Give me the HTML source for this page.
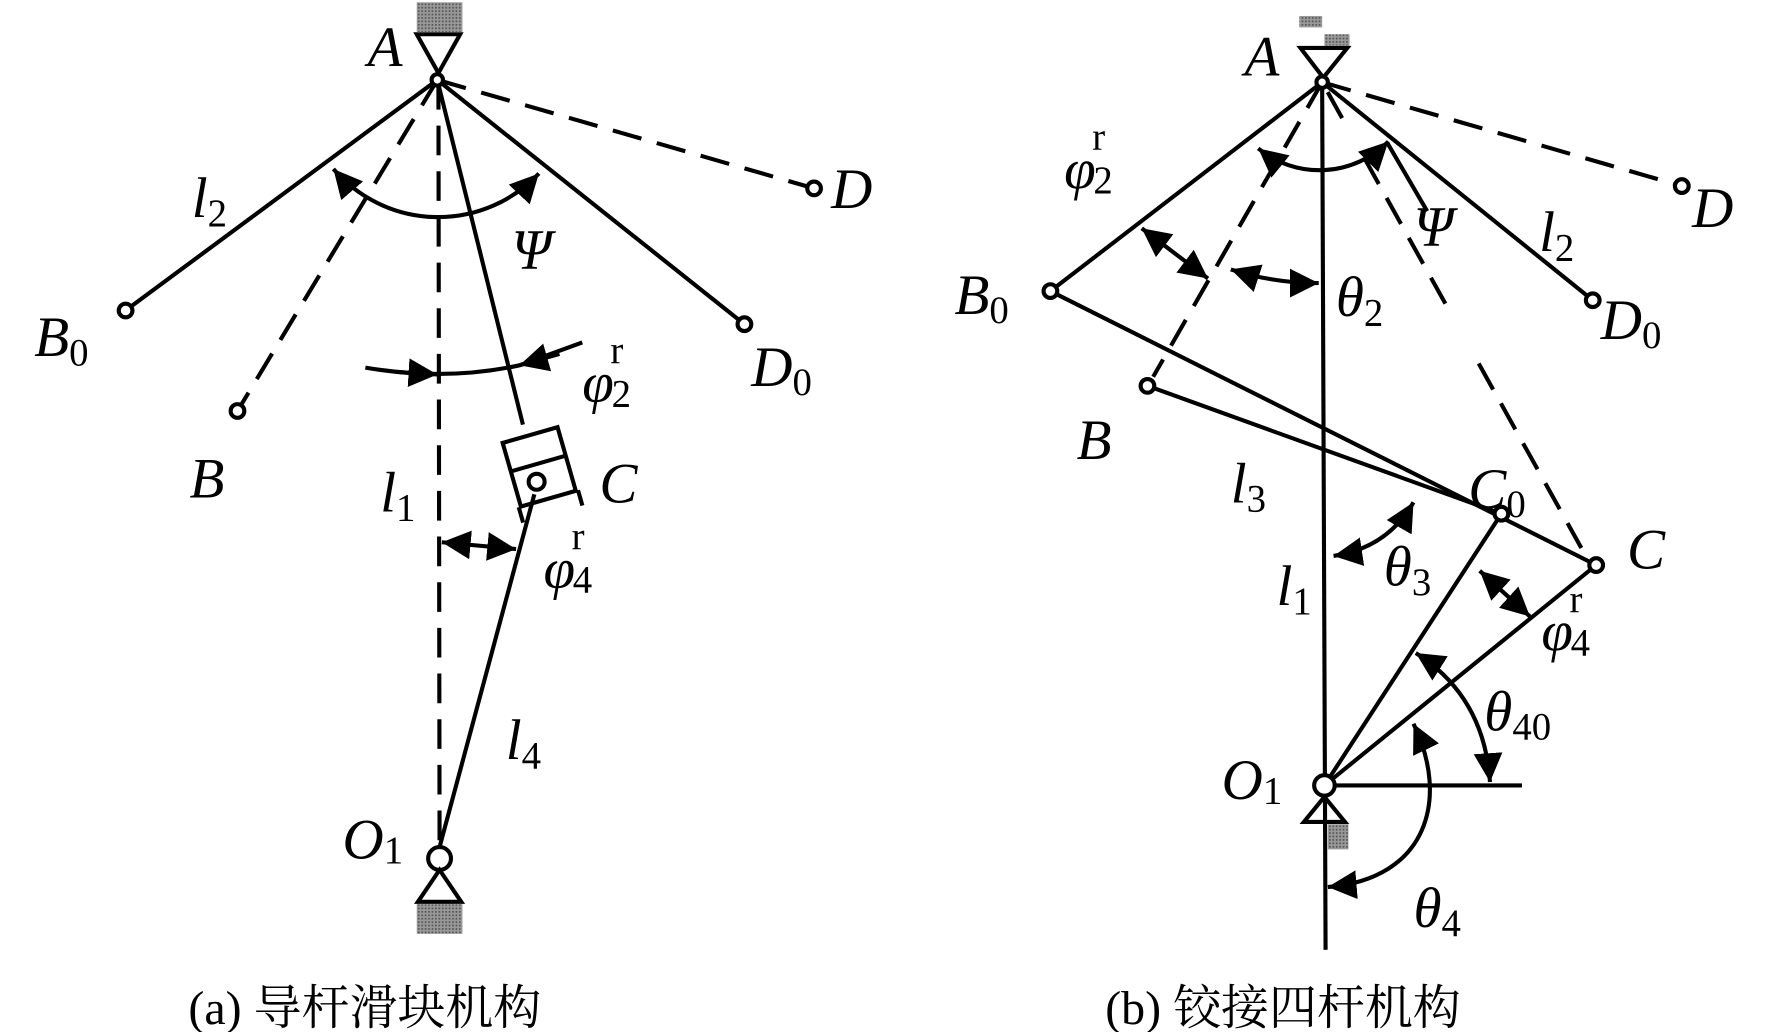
<!DOCTYPE html>
<html><head><meta charset="utf-8"><style>html,body{margin:0;padding:0;background:#fff}svg{display:block}
text{font-family:"Liberation Serif","Noto Serif CJK SC",serif;font-style:italic;font-size:50px;fill:#000}
.s{font-style:normal;font-size:34px}.c{font-style:normal;font-size:42px}</style></head><body>
<svg width="1772" height="1032" viewBox="0 0 1552 904" preserveAspectRatio="none" xmlns="http://www.w3.org/2000/svg">
<defs>
<marker id="a" viewBox="0 0 10 10" refX="10" refY="5" markerWidth="7" markerHeight="7" orient="auto-start-reverse"><path d="M0,0 L10,5 L0,10z" fill="#000"/></marker>
<pattern id="h" width="3" height="3" patternUnits="userSpaceOnUse"><rect width="3" height="3" fill="#999"/><rect width="1.5" height="1.5" fill="#555"/></pattern></defs>
<g stroke="#000" stroke-width="3.6" fill="none">
<!-- left -->
<rect x="365" y="2" width="40" height="26" fill="url(#h)" stroke="none"/>
<path d="M365,30 H403 L384,64 Z"/>
<line x1="383" y1="70" x2="110" y2="272"/><line x1="383" y1="70" x2="652" y2="284"/>
<line x1="383" y1="70" x2="713" y2="165" stroke-dasharray="26,14"/>
<line x1="383" y1="70" x2="208" y2="360" stroke-dasharray="26,14"/>
<line x1="384" y1="70" x2="385" y2="742" stroke-dasharray="26,14"/>
<line x1="383" y1="70" x2="458" y2="372"/>
<g transform="rotate(-16 472 408)"><rect x="447" y="380" width="50" height="58"/><line x1="447" y1="406" x2="497" y2="406"/><line x1="445" y1="438" x2="445" y2="452"/><line x1="499" y1="438" x2="499" y2="452"/></g>
<line x1="468" y1="433" x2="385" y2="742"/>
<circle cx="470" cy="422" r="7" fill="#fff"/>
<circle cx="385" cy="752" r="10" fill="#fff"/>
<path d="M385,762 L366,790 H404 Z"/>
<rect x="365" y="792" width="40" height="26" fill="url(#h)" stroke="none"/>
<path d="M292,148 A121,121 0 0 0 472,152" marker-start="url(#a)" marker-end="url(#a)"/>
<path d="M320,322 Q390,334 455,320 L510,300"/>
<line x1="350" y1="326" x2="383" y2="328" marker-end="url(#a)"/>
<line x1="490" y1="310" x2="455" y2="320" marker-end="url(#a)"/>
<line x1="387" y1="475" x2="452" y2="481" marker-start="url(#a)" marker-end="url(#a)"/>
<circle cx="383" cy="70" r="5" fill="#fff"/><circle cx="110" cy="272" r="6" fill="#fff"/><circle cx="652" cy="284" r="6" fill="#fff"/><circle cx="713" cy="165" r="6" fill="#fff"/><circle cx="208" cy="360" r="6" fill="#fff"/>
<!-- right -->
<rect x="1138" y="14" width="20" height="10" fill="url(#h)" stroke="none"/><rect x="1160" y="30" width="22" height="10" fill="url(#h)" stroke="none"/>
<path d="M1139,42 H1180 L1159,68 Z"/>
<line x1="1158" y1="72" x2="1161" y2="832"/>
<line x1="1158" y1="72" x2="920" y2="255"/><line x1="920" y1="255" x2="1398" y2="495"/>
<line x1="1158" y1="72" x2="1395" y2="263"/>
<line x1="1158" y1="72" x2="1473" y2="163" stroke-dasharray="26,14"/>
<line x1="1158" y1="72" x2="1010" y2="330" stroke-dasharray="26,14"/>
<line x1="1158" y1="72" x2="1385" y2="480" stroke-dasharray="0,10,26,40,26,14,26,14,26,14,26,60,26,14,26,14,26,14,26,14,26,14,60,14"/>
<line x1="1005" y1="338" x2="1315" y2="450"/>
<line x1="1160" y1="688" x2="1315" y2="450"/><line x1="1160" y1="688" x2="1398" y2="495"/>
<line x1="1160" y1="688" x2="1333" y2="688"/>
<path d="M1160,698 L1142,720 H1178 Z"/>
<rect x="1163" y="722" width="18" height="22" fill="url(#h)" stroke="none"/>
<path d="M1102,130 A85,85 0 0 0 1216,124" marker-start="url(#a)" marker-end="url(#a)"/>
<line x1="1215" y1="125" x2="1250" y2="185"/>
<line x1="1000" y1="200" x2="1058" y2="244" marker-start="url(#a)" marker-end="url(#a)"/>
<path d="M1078,236 Q1115,248 1155,248" marker-start="url(#a)" marker-end="url(#a)"/>
<path d="M1168,487 Q1215,480 1238,440" marker-start="url(#a)" marker-end="url(#a)"/>
<line x1="1296" y1="500" x2="1340" y2="540" marker-start="url(#a)" marker-end="url(#a)"/>
<path d="M1240,572 Q1300,610 1305,685" marker-start="url(#a)" marker-end="url(#a)"/>
<path d="M1238,634 C1270,700 1250,770 1163,777" marker-start="url(#a)" marker-end="url(#a)"/>
<circle cx="1158" cy="72" r="5" fill="#fff"/><circle cx="920" cy="255" r="6" fill="#fff"/><circle cx="1395" cy="263" r="6" fill="#fff"/><circle cx="1473" cy="163" r="6" fill="#fff"/><circle cx="1005" cy="338" r="6" fill="#fff"/><circle cx="1315" cy="450" r="6" fill="#fff"/><circle cx="1398" cy="495" r="6" fill="#fff"/><circle cx="1160" cy="688" r="9" fill="#fff"/>
</g>
<!-- labels left -->
<text x="322" y="58">A</text>
<text x="168" y="190">l<tspan class="s" dy="8">2</tspan></text>
<text x="448" y="235">Ψ</text>
<text x="728" y="182">D</text>
<text x="30" y="312">B<tspan class="s" dy="8">0</tspan></text>
<text x="658" y="338">D<tspan class="s" dy="8">0</tspan></text>
<text x="510" y="352">φ<tspan class="s" dx="-2" dy="4">2</tspan><tspan class="s" dx="-18" dy="-38">r</tspan></text>
<text x="166" y="436">B</text>
<text x="333" y="448">l<tspan class="s" dy="8">1</tspan></text>
<text x="525" y="440">C</text>
<text x="476" y="515">φ<tspan class="s" dx="-2" dy="4">4</tspan><tspan class="s" dx="-18" dy="-38">r</tspan></text>
<text x="443" y="665">l<tspan class="s" dy="8">4</tspan></text>
<text x="300" y="752">O<tspan class="s" dy="4">1</tspan></text>
<text class="c" x="165" y="897">(a) 导杆滑块机构</text>
<!-- labels right -->
<text x="1090" y="66">A</text>
<text x="932" y="165">φ<tspan class="s" dx="-2" dy="4">2</tspan><tspan class="s" dx="-18" dy="-38">r</tspan></text>
<text x="1238" y="215">Ψ</text>
<text x="1348" y="220">l<tspan class="s" dy="8">2</tspan></text>
<text x="1482" y="199">D</text>
<text x="836" y="275">B<tspan class="s" dy="8">0</tspan></text>
<text x="1170" y="277">θ<tspan class="s" dy="8">2</tspan></text>
<text x="1402" y="297">D<tspan class="s" dy="8">0</tspan></text>
<text x="943" y="402">B</text>
<text x="1078" y="440">l<tspan class="s" dy="8">3</tspan></text>
<text x="1286" y="445">C<tspan class="s" dy="8">0</tspan></text>
<text x="1425" y="498">C</text>
<text x="1118" y="530">l<tspan class="s" dy="8">1</tspan></text>
<text x="1212" y="513">θ<tspan class="s" dy="8">3</tspan></text>
<text x="1350" y="570">φ<tspan class="s" dx="-2" dy="4">4</tspan><tspan class="s" dx="-18" dy="-38">r</tspan></text>
<text x="1300" y="640">θ<tspan class="s" dy="8">40</tspan></text>
<text x="1070" y="700">O<tspan class="s" dy="4">1</tspan></text>
<text x="1238" y="812">θ<tspan class="s" dy="8">4</tspan></text>
<text class="c" x="968" y="897">(b) 铰接四杆机构</text>
</svg></body></html>
